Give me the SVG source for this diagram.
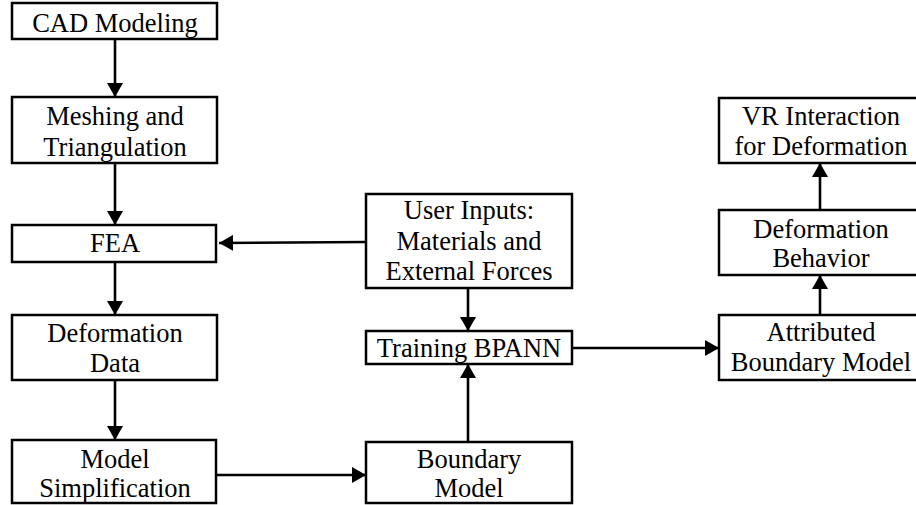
<svg xmlns="http://www.w3.org/2000/svg" width="916" height="505" viewBox="0 0 916 505">
<style>
.box{fill:#fff;stroke:#000;stroke-width:2.5}
.t{font-family:"Liberation Serif","Times New Roman",serif;font-size:26.5px;fill:#000;text-anchor:middle}
.c{stroke:#000;stroke-width:2.6;fill:none}
</style>
<defs>
<marker id="ah" viewBox="0 0 14 16" refX="14" refY="8" markerWidth="14" markerHeight="16" markerUnits="userSpaceOnUse" orient="auto">
<path d="M0,0 L14,8 L0,16 Z" fill="#000"/>
</marker>
</defs>
<rect width="916" height="505" fill="#fff"/>
<g id="connectors">
<line class="c" x1="115" y1="40" x2="115" y2="97" marker-end="url(#ah)"/>
<line class="c" x1="115" y1="164" x2="115" y2="225" marker-end="url(#ah)"/>
<line class="c" x1="366" y1="242" x2="219" y2="243" marker-end="url(#ah)"/>
<line class="c" x1="115" y1="263" x2="115" y2="315" marker-end="url(#ah)"/>
<line class="c" x1="115" y1="381" x2="115" y2="440" marker-end="url(#ah)"/>
<line class="c" x1="217" y1="475" x2="366" y2="475" marker-end="url(#ah)"/>
<line class="c" x1="468" y1="289" x2="468" y2="331" marker-end="url(#ah)"/>
<line class="c" x1="468" y1="441" x2="468" y2="364" marker-end="url(#ah)"/>
<line class="c" x1="573" y1="348" x2="719" y2="348" marker-end="url(#ah)"/>
<line class="c" x1="820" y1="314" x2="820" y2="275" marker-end="url(#ah)"/>
<line class="c" x1="820" y1="209" x2="820" y2="163" marker-end="url(#ah)"/>
</g>
<g id="cad"><rect class="box" x="12" y="3" width="205" height="36"/><text class="t" x="115" y="32">CAD Modeling</text></g>
<g id="meshing"><rect class="box" x="12" y="97" width="205" height="66"/><text class="t" x="115" y="125">Meshing and</text><text class="t" x="115" y="156">Triangulation</text></g>
<g id="fea"><rect class="box" x="12" y="225" width="204" height="37"/><text class="t" x="115" y="252">FEA</text></g>
<g id="defdata"><rect class="box" x="12" y="315" width="205" height="65"/><text class="t" x="115" y="342">Deformation</text><text class="t" x="115" y="372">Data</text></g>
<g id="simplification"><rect class="box" x="12" y="440" width="204" height="63"/><text class="t" x="115" y="468">Model</text><text class="t" x="115" y="497">Simplification</text></g>
<g id="userinputs"><rect class="box" x="366" y="194" width="206" height="94"/><text class="t" x="469" y="219">User Inputs:</text><text class="t" x="469" y="250">Materials and</text><text class="t" x="469" y="280">External Forces</text></g>
<g id="training"><rect class="box" x="366" y="331" width="206" height="33"/><text class="t" x="469" y="357">Training BPANN</text></g>
<g id="boundary"><rect class="box" x="366" y="442" width="206" height="61"/><text class="t" x="469" y="468">Boundary</text><text class="t" x="469" y="497">Model</text></g>
<g id="vr"><rect class="box" x="719" y="98" width="205" height="65"/><text class="t" x="821" y="125">VR Interaction</text><text class="t" x="821" y="155">for Deformation</text></g>
<g id="behavior"><rect class="box" x="719" y="210" width="205" height="65"/><text class="t" x="821" y="238">Deformation</text><text class="t" x="821" y="267">Behavior</text></g>
<g id="attributed"><rect class="box" x="719" y="315" width="205" height="65"/><text class="t" x="821" y="341">Attributed</text><text class="t" x="821" y="371">Boundary Model</text></g>
</svg>
